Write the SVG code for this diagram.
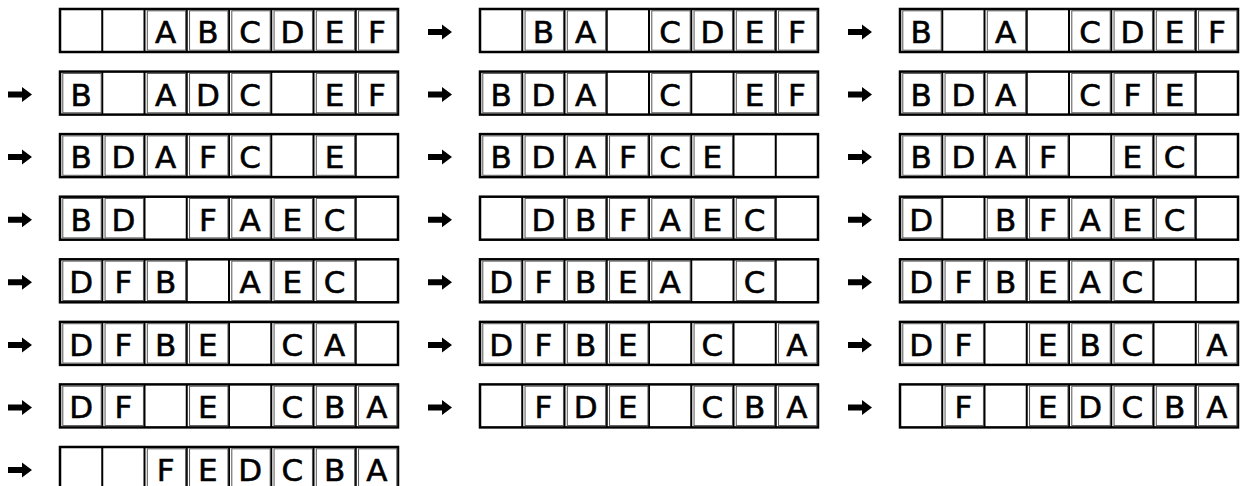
<svg xmlns="http://www.w3.org/2000/svg" xmlns:xlink="http://www.w3.org/1999/xlink" width="1243" height="486" viewBox="0 0 1243 486">
<style>
.L{font-family:"DejaVu Sans","Liberation Sans",sans-serif;font-size:31px;fill:#000;stroke:#000;stroke-width:0.6px;text-anchor:middle}
.ln{stroke:#000;fill:none}
</style>
<defs>
<g id="strip">
<rect x="0" y="0" width="338" height="43" fill="#fff" stroke="#000" stroke-width="2.5"/>
<path class="ln" stroke-width="2" d="M42.25,0V43M84.5,0V43M126.75,0V43M169,0V43M211.25,0V43M253.5,0V43M295.75,0V43"/>
</g>
<rect id="lb" x="2.8" y="1.8" width="38.4" height="39.4" fill="none" stroke="#555" stroke-width="1"/>
<path id="arrow" d="M0,-3H14V-7.5L24,0L14,7.5V3H0Z" fill="#000"/>
</defs>

<g id="connectors">
<use href="#arrow" x="428" y="32"/><use href="#arrow" x="848" y="32"/>
<use href="#arrow" x="8" y="94.6"/><use href="#arrow" x="428" y="94.6"/><use href="#arrow" x="848" y="94.6"/>
<use href="#arrow" x="8" y="157.1"/><use href="#arrow" x="428" y="157.1"/><use href="#arrow" x="848" y="157.1"/>
<use href="#arrow" x="8" y="219.7"/><use href="#arrow" x="428" y="219.7"/><use href="#arrow" x="848" y="219.7"/>
<use href="#arrow" x="8" y="282.3"/><use href="#arrow" x="428" y="282.3"/><use href="#arrow" x="848" y="282.3"/>
<use href="#arrow" x="8" y="344.9"/><use href="#arrow" x="428" y="344.9"/><use href="#arrow" x="848" y="344.9"/>
<use href="#arrow" x="8" y="407.4"/><use href="#arrow" x="428" y="407.4"/><use href="#arrow" x="848" y="407.4"/>
<use href="#arrow" x="8" y="470"/>
</g>

<!-- Row 1 -->
<g id="s1" transform="translate(60,9)"><use href="#strip"/>
<use href="#lb" x="84.5"/><use href="#lb" x="126.75"/><use href="#lb" x="169"/><use href="#lb" x="211.25"/><use href="#lb" x="253.5"/><use href="#lb" x="295.75"/>
<text class="L" x="105.6" y="34">A</text><text class="L" x="147.9" y="34">B</text><text class="L" x="190.1" y="34">C</text><text class="L" x="232.4" y="34">D</text><text class="L" x="274.6" y="34">E</text><text class="L" x="316.9" y="34">F</text></g>
<g id="s2" transform="translate(480,9)"><use href="#strip"/>
<use href="#lb" x="42.25"/><use href="#lb" x="84.5"/><use href="#lb" x="169"/><use href="#lb" x="211.25"/><use href="#lb" x="253.5"/><use href="#lb" x="295.75"/>
<text class="L" x="63.4" y="34">B</text><text class="L" x="105.6" y="34">A</text><text class="L" x="190.1" y="34">C</text><text class="L" x="232.4" y="34">D</text><text class="L" x="274.6" y="34">E</text><text class="L" x="316.9" y="34">F</text></g>
<g id="s3" transform="translate(900,9)"><use href="#strip"/>
<use href="#lb" x="0"/><use href="#lb" x="84.5"/><use href="#lb" x="169"/><use href="#lb" x="211.25"/><use href="#lb" x="253.5"/><use href="#lb" x="295.75"/>
<text class="L" x="21.1" y="34">B</text><text class="L" x="105.6" y="34">A</text><text class="L" x="190.1" y="34">C</text><text class="L" x="232.4" y="34">D</text><text class="L" x="274.6" y="34">E</text><text class="L" x="316.9" y="34">F</text></g>

<!-- Row 2 -->
<g id="s4" transform="translate(60,71.6)"><use href="#strip"/>
<use href="#lb" x="0"/><use href="#lb" x="84.5"/><use href="#lb" x="126.75"/><use href="#lb" x="169"/><use href="#lb" x="253.5"/><use href="#lb" x="295.75"/>
<text class="L" x="21.1" y="34">B</text><text class="L" x="105.6" y="34">A</text><text class="L" x="147.9" y="34">D</text><text class="L" x="190.1" y="34">C</text><text class="L" x="274.6" y="34">E</text><text class="L" x="316.9" y="34">F</text></g>
<g id="s5" transform="translate(480,71.6)"><use href="#strip"/>
<use href="#lb" x="0"/><use href="#lb" x="42.25"/><use href="#lb" x="84.5"/><use href="#lb" x="169"/><use href="#lb" x="253.5"/><use href="#lb" x="295.75"/>
<text class="L" x="21.1" y="34">B</text><text class="L" x="63.4" y="34">D</text><text class="L" x="105.6" y="34">A</text><text class="L" x="190.1" y="34">C</text><text class="L" x="274.6" y="34">E</text><text class="L" x="316.9" y="34">F</text></g>
<g id="s6" transform="translate(900,71.6)"><use href="#strip"/>
<use href="#lb" x="0"/><use href="#lb" x="42.25"/><use href="#lb" x="84.5"/><use href="#lb" x="169"/><use href="#lb" x="211.25"/><use href="#lb" x="253.5"/>
<text class="L" x="21.1" y="34">B</text><text class="L" x="63.4" y="34">D</text><text class="L" x="105.6" y="34">A</text><text class="L" x="190.1" y="34">C</text><text class="L" x="232.4" y="34">F</text><text class="L" x="274.6" y="34">E</text></g>

<!-- Row 3 -->
<g id="s7" transform="translate(60,134.1)"><use href="#strip"/>
<use href="#lb" x="0"/><use href="#lb" x="42.25"/><use href="#lb" x="84.5"/><use href="#lb" x="126.75"/><use href="#lb" x="169"/><use href="#lb" x="253.5"/>
<text class="L" x="21.1" y="34">B</text><text class="L" x="63.4" y="34">D</text><text class="L" x="105.6" y="34">A</text><text class="L" x="147.9" y="34">F</text><text class="L" x="190.1" y="34">C</text><text class="L" x="274.6" y="34">E</text></g>
<g id="s8" transform="translate(480,134.1)"><use href="#strip"/>
<use href="#lb" x="0"/><use href="#lb" x="42.25"/><use href="#lb" x="84.5"/><use href="#lb" x="126.75"/><use href="#lb" x="169"/><use href="#lb" x="211.25"/>
<text class="L" x="21.1" y="34">B</text><text class="L" x="63.4" y="34">D</text><text class="L" x="105.6" y="34">A</text><text class="L" x="147.9" y="34">F</text><text class="L" x="190.1" y="34">C</text><text class="L" x="232.4" y="34">E</text></g>
<g id="s9" transform="translate(900,134.1)"><use href="#strip"/>
<use href="#lb" x="0"/><use href="#lb" x="42.25"/><use href="#lb" x="84.5"/><use href="#lb" x="126.75"/><use href="#lb" x="211.25"/><use href="#lb" x="253.5"/>
<text class="L" x="21.1" y="34">B</text><text class="L" x="63.4" y="34">D</text><text class="L" x="105.6" y="34">A</text><text class="L" x="147.9" y="34">F</text><text class="L" x="232.4" y="34">E</text><text class="L" x="274.6" y="34">C</text></g>

<!-- Row 4 -->
<g id="s10" transform="translate(60,196.7)"><use href="#strip"/>
<use href="#lb" x="0"/><use href="#lb" x="42.25"/><use href="#lb" x="126.75"/><use href="#lb" x="169"/><use href="#lb" x="211.25"/><use href="#lb" x="253.5"/>
<text class="L" x="21.1" y="34">B</text><text class="L" x="63.4" y="34">D</text><text class="L" x="147.9" y="34">F</text><text class="L" x="190.1" y="34">A</text><text class="L" x="232.4" y="34">E</text><text class="L" x="274.6" y="34">C</text></g>
<g id="s11" transform="translate(480,196.7)"><use href="#strip"/>
<use href="#lb" x="42.25"/><use href="#lb" x="84.5"/><use href="#lb" x="126.75"/><use href="#lb" x="169"/><use href="#lb" x="211.25"/><use href="#lb" x="253.5"/>
<text class="L" x="63.4" y="34">D</text><text class="L" x="105.6" y="34">B</text><text class="L" x="147.9" y="34">F</text><text class="L" x="190.1" y="34">A</text><text class="L" x="232.4" y="34">E</text><text class="L" x="274.6" y="34">C</text></g>
<g id="s12" transform="translate(900,196.7)"><use href="#strip"/>
<use href="#lb" x="0"/><use href="#lb" x="84.5"/><use href="#lb" x="126.75"/><use href="#lb" x="169"/><use href="#lb" x="211.25"/><use href="#lb" x="253.5"/>
<text class="L" x="21.1" y="34">D</text><text class="L" x="105.6" y="34">B</text><text class="L" x="147.9" y="34">F</text><text class="L" x="190.1" y="34">A</text><text class="L" x="232.4" y="34">E</text><text class="L" x="274.6" y="34">C</text></g>

<!-- Row 5 -->
<g id="s13" transform="translate(60,259.3)"><use href="#strip"/>
<use href="#lb" x="0"/><use href="#lb" x="42.25"/><use href="#lb" x="84.5"/><use href="#lb" x="169"/><use href="#lb" x="211.25"/><use href="#lb" x="253.5"/>
<text class="L" x="21.1" y="34">D</text><text class="L" x="63.4" y="34">F</text><text class="L" x="105.6" y="34">B</text><text class="L" x="190.1" y="34">A</text><text class="L" x="232.4" y="34">E</text><text class="L" x="274.6" y="34">C</text></g>
<g id="s14" transform="translate(480,259.3)"><use href="#strip"/>
<use href="#lb" x="0"/><use href="#lb" x="42.25"/><use href="#lb" x="84.5"/><use href="#lb" x="126.75"/><use href="#lb" x="169"/><use href="#lb" x="253.5"/>
<text class="L" x="21.1" y="34">D</text><text class="L" x="63.4" y="34">F</text><text class="L" x="105.6" y="34">B</text><text class="L" x="147.9" y="34">E</text><text class="L" x="190.1" y="34">A</text><text class="L" x="274.6" y="34">C</text></g>
<g id="s15" transform="translate(900,259.3)"><use href="#strip"/>
<use href="#lb" x="0"/><use href="#lb" x="42.25"/><use href="#lb" x="84.5"/><use href="#lb" x="126.75"/><use href="#lb" x="169"/><use href="#lb" x="211.25"/>
<text class="L" x="21.1" y="34">D</text><text class="L" x="63.4" y="34">F</text><text class="L" x="105.6" y="34">B</text><text class="L" x="147.9" y="34">E</text><text class="L" x="190.1" y="34">A</text><text class="L" x="232.4" y="34">C</text></g>

<!-- Row 6 -->
<g id="s16" transform="translate(60,321.9)"><use href="#strip"/>
<use href="#lb" x="0"/><use href="#lb" x="42.25"/><use href="#lb" x="84.5"/><use href="#lb" x="126.75"/><use href="#lb" x="211.25"/><use href="#lb" x="253.5"/>
<text class="L" x="21.1" y="34">D</text><text class="L" x="63.4" y="34">F</text><text class="L" x="105.6" y="34">B</text><text class="L" x="147.9" y="34">E</text><text class="L" x="232.4" y="34">C</text><text class="L" x="274.6" y="34">A</text></g>
<g id="s17" transform="translate(480,321.9)"><use href="#strip"/>
<use href="#lb" x="0"/><use href="#lb" x="42.25"/><use href="#lb" x="84.5"/><use href="#lb" x="126.75"/><use href="#lb" x="211.25"/><use href="#lb" x="295.75"/>
<text class="L" x="21.1" y="34">D</text><text class="L" x="63.4" y="34">F</text><text class="L" x="105.6" y="34">B</text><text class="L" x="147.9" y="34">E</text><text class="L" x="232.4" y="34">C</text><text class="L" x="316.9" y="34">A</text></g>
<g id="s18" transform="translate(900,321.9)"><use href="#strip"/>
<use href="#lb" x="0"/><use href="#lb" x="42.25"/><use href="#lb" x="126.75"/><use href="#lb" x="169"/><use href="#lb" x="211.25"/><use href="#lb" x="295.75"/>
<text class="L" x="21.1" y="34">D</text><text class="L" x="63.4" y="34">F</text><text class="L" x="147.9" y="34">E</text><text class="L" x="190.1" y="34">B</text><text class="L" x="232.4" y="34">C</text><text class="L" x="316.9" y="34">A</text></g>

<!-- Row 7 -->
<g id="s19" transform="translate(60,384.4)"><use href="#strip"/>
<use href="#lb" x="0"/><use href="#lb" x="42.25"/><use href="#lb" x="126.75"/><use href="#lb" x="211.25"/><use href="#lb" x="253.5"/><use href="#lb" x="295.75"/>
<text class="L" x="21.1" y="34">D</text><text class="L" x="63.4" y="34">F</text><text class="L" x="147.9" y="34">E</text><text class="L" x="232.4" y="34">C</text><text class="L" x="274.6" y="34">B</text><text class="L" x="316.9" y="34">A</text></g>
<g id="s20" transform="translate(480,384.4)"><use href="#strip"/>
<use href="#lb" x="42.25"/><use href="#lb" x="84.5"/><use href="#lb" x="126.75"/><use href="#lb" x="211.25"/><use href="#lb" x="253.5"/><use href="#lb" x="295.75"/>
<text class="L" x="63.4" y="34">F</text><text class="L" x="105.6" y="34">D</text><text class="L" x="147.9" y="34">E</text><text class="L" x="232.4" y="34">C</text><text class="L" x="274.6" y="34">B</text><text class="L" x="316.9" y="34">A</text></g>
<g id="s21" transform="translate(900,384.4)"><use href="#strip"/>
<use href="#lb" x="42.25"/><use href="#lb" x="126.75"/><use href="#lb" x="169"/><use href="#lb" x="211.25"/><use href="#lb" x="253.5"/><use href="#lb" x="295.75"/>
<text class="L" x="63.4" y="34">F</text><text class="L" x="147.9" y="34">E</text><text class="L" x="190.1" y="34">D</text><text class="L" x="232.4" y="34">C</text><text class="L" x="274.6" y="34">B</text><text class="L" x="316.9" y="34">A</text></g>

<!-- Row 8 -->
<g id="s22" transform="translate(60,447)"><use href="#strip"/>
<use href="#lb" x="84.5"/><use href="#lb" x="126.75"/><use href="#lb" x="169"/><use href="#lb" x="211.25"/><use href="#lb" x="253.5"/><use href="#lb" x="295.75"/>
<text class="L" x="105.6" y="34">F</text><text class="L" x="147.9" y="34">E</text><text class="L" x="190.1" y="34">D</text><text class="L" x="232.4" y="34">C</text><text class="L" x="274.6" y="34">B</text><text class="L" x="316.9" y="34">A</text></g>
</svg>
